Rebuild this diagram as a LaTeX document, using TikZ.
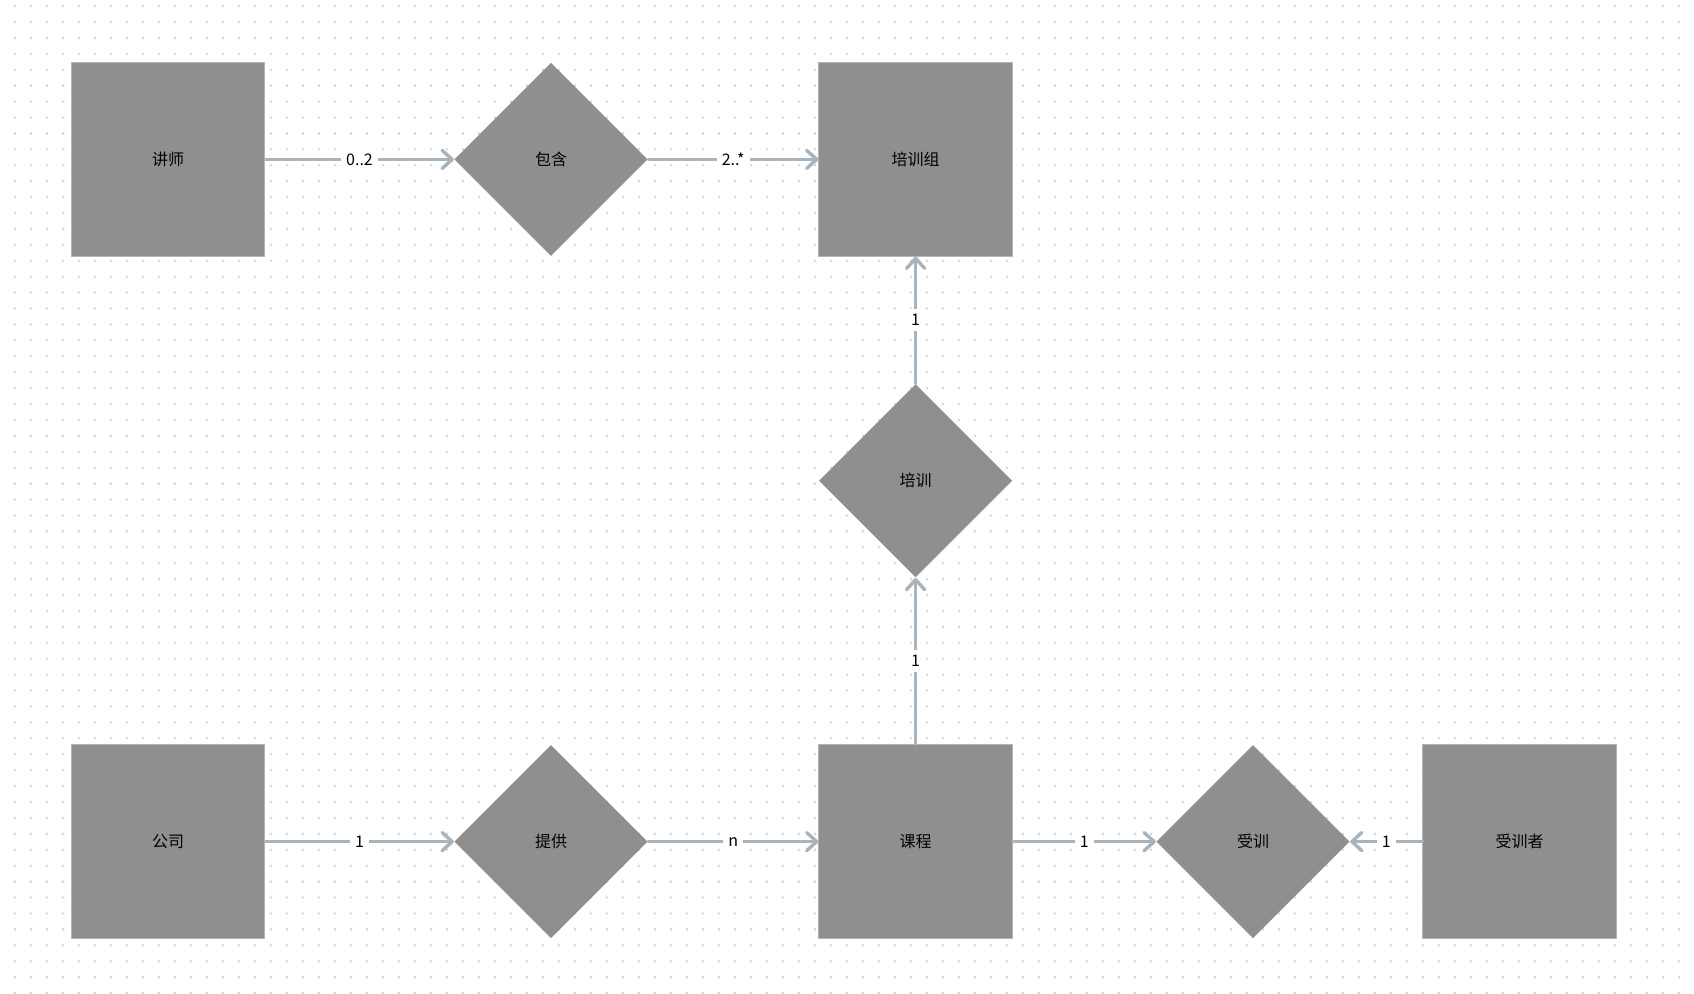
\documentclass[tikz,border=0pt]{standalone}
\usepackage{fontspec}
\setmainfont{Noto Sans CJK SC}
\usetikzlibrary{shapes.geometric,arrows.meta}
\definecolor{boxgray}{HTML}{8F8F8F}
\definecolor{boxedge}{HTML}{B4B4B4}
\definecolor{linkc}{HTML}{A9B3BC}
\definecolor{dotc}{HTML}{D2D5DA}
\tikzset{
  entity/.style={rectangle, fill=boxgray, draw=boxedge, line width=0.5pt, minimum width=96.7pt, minimum height=96.7pt, inner sep=0pt, font=\fontsize{8}{9}\selectfont, text=black},
  relation/.style={diamond, fill=boxgray, minimum width=96.7pt, minimum height=96.7pt, inner sep=0pt, aspect=1, font=\fontsize{8}{9}\selectfont, text=black},
  link/.style={draw=linkc, line width=1.7pt, line cap=round, -{Straight Barb[length=5pt,width=9pt,line width=1.7pt,round]}},
  card/.style={fill=white, inner sep=2.5pt, font=\fontsize{8}{9}\selectfont, text=black}
}
\begin{document}
\begin{tikzpicture}[x=0.5pt,y=-0.5pt]
\useasboundingbox (0,0) rectangle (1694,993);
\fill[white] (0,0) rectangle (1694,993);
\foreach \i in {0,...,104} {
  \foreach \j in {0,...,62} {
    \fill[dotc] (15+16*\i, 6+15.92*\j) circle[radius=0.7pt];
  }
}
% entities
\node[entity] (js) at (168,159.4) {讲师};
\node[entity] (pxz) at (915.6,159.4) {培训组};
\node[entity] (gs) at (168,841.6) {公司};
\node[entity] (kc) at (915.6,841.6) {课程};
\node[entity] (sxz) at (1519.6,841.6) {受训者};
% relations
\node[relation] (bh) at (551,159.4) {包含};
\node[relation] (px) at (915.6,480.8) {培训};
\node[relation] (tg) at (551,841.6) {提供};
\node[relation] (sx) at (1253,841.6) {受训};
% connectors
\draw[link] (js) -- node[card] {0..2} (bh);
\draw[link] (bh) -- node[card] {2..*} (pxz);
\draw[link] (px) -- node[card] {1} (pxz);
\draw[link] (kc) -- node[card] {1} (px);
\draw[link] (gs) -- node[card] {1} (tg);
\draw[link] (tg) -- node[card] {n} (kc);
\draw[link] (kc) -- node[card] {1} (sx);
\draw[link] (sxz) -- node[card] {1} (sx);
\end{tikzpicture}
\end{document}
